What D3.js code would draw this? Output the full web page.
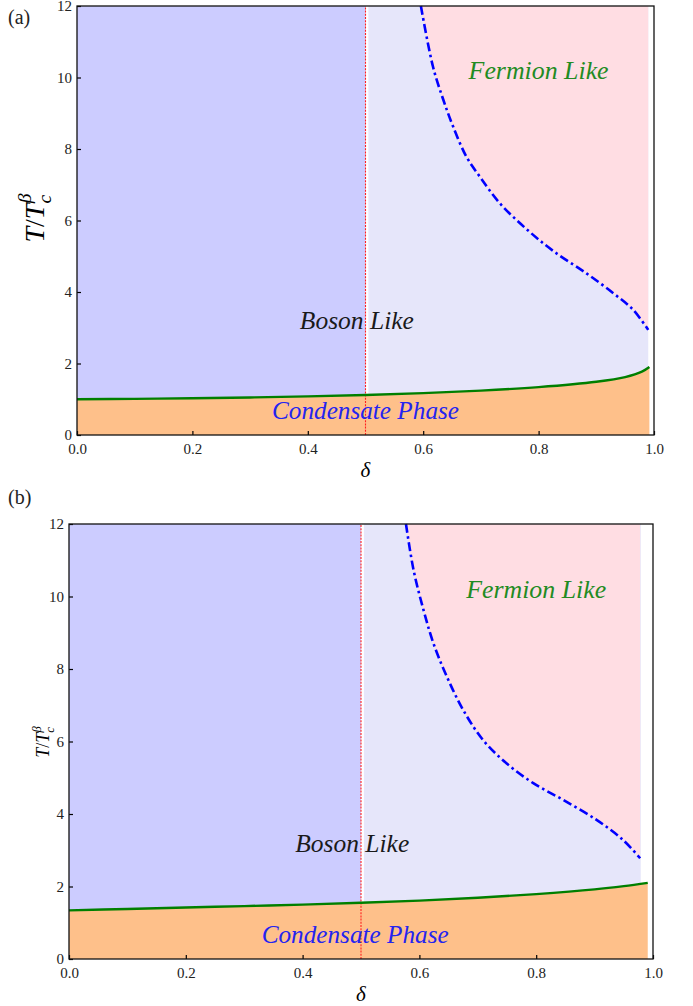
<!DOCTYPE html>
<html>
<head>
<meta charset="utf-8">
<script src="https://cdn.jsdelivr.net/npm/d3@7"></script>
<style>
  body { margin: 0; background: #fff; }
</style>
</head>
<body>
<svg width="693" height="1006"></svg>
<script>
const SERIF = "'Liberation Serif', 'Times New Roman', serif";

const deltaTicks = [0, 0.2, 0.4, 0.6, 0.8, 1.0];
const tTicks = [0, 2, 4, 6, 8, 10, 12];

// panel (a)
const condDeltaA = [0, 0.1, 0.2, 0.3, 0.4, 0.5, 0.6, 0.7, 0.8, 0.9, 0.95, 0.98, 0.992];
const condTA =     [1.0, 1.01, 1.03, 1.05, 1.08, 1.12, 1.17, 1.24, 1.34, 1.49, 1.62, 1.78, 1.90];
const crossDeltaA = [0.596, 0.617, 0.635, 0.652, 0.675, 0.698, 0.733, 0.779, 0.826, 0.883, 0.930, 0.964, 0.990];
const crossTA =     [12.0, 10.30, 9.37, 8.62, 7.78, 7.23, 6.48, 5.76, 5.14, 4.52, 3.96, 3.50, 2.94];

// panel (b)
const condDeltaB = [0, 0.1, 0.2, 0.3, 0.4, 0.5, 0.6, 0.7, 0.8, 0.9, 0.95, 0.991];
const condTB =     [1.34, 1.38, 1.42, 1.46, 1.50, 1.55, 1.61, 1.69, 1.79, 1.92, 2.01, 2.10];
const crossDeltaB = [0.577, 0.590, 0.607, 0.624, 0.647, 0.675, 0.709, 0.749, 0.795, 0.846, 0.904, 0.949, 0.978];
const crossTB =     [12.0, 10.73, 9.63, 8.71, 7.79, 6.87, 6.04, 5.40, 4.85, 4.39, 3.83, 3.28, 2.78];

const svg = d3.select("svg");

function drawPanel(o) {
  const x = d3.scaleLinear().domain([0, 1]).range([o.left, o.right]);
  const y = d3.scaleLinear().domain([0, 12]).range([o.bottom, o.top]);
  const g = svg.append("g");

  const cond = o.condD.map((d, i) => [d, o.condT[i]]);
  const cross = o.crossD.map((d, i) => [d, o.crossT[i]]);
  const curve = d3.curveCatmullRom.alpha(0.5);

  // boson region (left of delta = 0.5)
  g.append("rect")
    .attr("x", x(0)).attr("y", y(12))
    .attr("width", x(0.5) - x(0)).attr("height", y(0) - y(12))
    .attr("fill", "#ccccff");
  // boson-like region right of 0.5
  g.append("rect")
    .attr("x", x(0.505)).attr("y", y(12))
    .attr("width", x(o.lavEnd) - x(0.505)).attr("height", y(0) - y(12))
    .attr("fill", "#e6e6fa");
  // fermion-like region
  g.append("path")
    .datum(cross)
    .attr("fill", "#ffdde3")
    .attr("d", d3.area().curve(curve)
      .x(d => x(d[0])).y0(d => y(d[1])).y1(y(12)));
  // condensate region
  g.append("path")
    .datum(cond)
    .attr("fill", "#fec08a")
    .attr("d", d3.area().curve(curve)
      .x(d => x(d[0])).y0(y(0)).y1(d => y(d[1])));

  // delta = 0.5 marker
  g.append("line")
    .attr("x1", x(0.5)).attr("x2", x(0.5))
    .attr("y1", y(0)).attr("y2", y(12))
    .attr("stroke", "#ff2020").attr("stroke-width", 1.1)
    .attr("stroke-dasharray", "2,1.2");

  // lines
  g.append("path")
    .datum(cond)
    .attr("fill", "none").attr("stroke", "#007f00").attr("stroke-width", 2.4)
    .attr("d", d3.line().curve(curve).x(d => x(d[0])).y(d => y(d[1])));
  g.append("path")
    .datum(cross)
    .attr("fill", "none").attr("stroke", "#0000ff").attr("stroke-width", 2.6)
    .attr("stroke-dasharray", "9,3.5,2.5,3.5")
    .attr("d", d3.line().curve(curve).x(d => x(d[0])).y(d => y(d[1])));

  // axes
  const xAxis = g.append("g").attr("transform", `translate(0,${o.bottom})`)
    .call(d3.axisBottom(x).tickValues(deltaTicks).tickFormat(d3.format(".1f")).tickSizeInner(-4).tickSizeOuter(0).tickPadding(8));
  const yAxis = g.append("g").attr("transform", `translate(${o.left},0)`)
    .call(d3.axisLeft(y).tickValues(tTicks).tickFormat(d3.format("d")).tickSizeInner(-4).tickSizeOuter(0).tickPadding(5));
  [xAxis, yAxis].forEach(a => {
    a.select(".domain").remove();
    a.selectAll("line").attr("stroke", "#000").attr("stroke-width", 1.2);
    a.selectAll("text").attr("fill", "#222").style("font-size", "15px")
      .style("font-family", SERIF);
  });
  g.append("rect")
    .attr("x", o.left).attr("y", o.top)
    .attr("width", o.right - o.left).attr("height", o.bottom - o.top)
    .attr("fill", "none").attr("stroke", "#111").attr("stroke-width", 1.3);

  // region labels
  const lab = (txt, d, t, col, w) => g.append("text")
    .attr("x", x(d)).attr("y", y(t))
    .attr("text-anchor", "middle").attr("dominant-baseline", "central")
    .attr("textLength", w).attr("lengthAdjust", "spacingAndGlyphs")
    .attr("fill", col)
    .style("font-family", SERIF).style("font-style", "italic").style("font-size", "25px")
    .text(txt);
  lab("Fermion Like", 0.80, 10.2, "#228b22", 140);
  lab("Boson Like", 0.485, 3.2, "#1a1a1a", 114);
  lab("Condensate Phase", o.condLabD, 0.68, "#2424f0", 187);

  // axis titles
  g.append("text")
    .attr("x", (o.left + o.right) / 2).attr("y", o.bottom + 42)
    .attr("text-anchor", "middle")
    .style("font-family", SERIF).style("font-style", "italic").style("font-size", "21px")
    .text("δ");
  const yl = g.append("text")
    .attr("transform", `translate(${o.ylX},${o.ylY}) rotate(-90)`)
    .attr("text-anchor", "middle")
    .style("font-family", SERIF).style("font-size", o.ylSize + "px");
  yl.append("tspan").style("font-style", "italic").text("T");
  yl.append("tspan").text("/");
  yl.append("tspan").style("font-style", "italic").text("T");
  yl.append("tspan").style("font-style", "italic").style("font-size", (o.ylSize * 0.7) + "px")
    .attr("dy", o.ylSize * 0.25).text("c");
  yl.append("tspan").style("font-style", "italic").style("font-size", (o.ylSize * 0.7) + "px")
    .attr("dx", -o.ylSize * 0.3).attr("dy", -o.ylSize * 0.7).text("β");

  svg.append("text")
    .attr("x", 8).attr("y", o.top + o.panelDy)
    .style("font-family", SERIF).style("font-size", "20px").attr("fill", "#222").text(o.panel);
}

drawPanel({
  panel: "(a)", panelDy: 18,
  left: 77, right: 654, top: 6, bottom: 435,
  condD: condDeltaA, condT: condTA, crossD: crossDeltaA, crossT: crossTA,
  lavEnd: 0.99, condLabD: 0.50,
  ylX: 44, ylY: 218, ylSize: 28
});
drawPanel({
  panel: "(b)", panelDy: -20,
  left: 69, right: 653, top: 524, bottom: 959,
  condD: condDeltaB, condT: condTB, crossD: crossDeltaB, crossT: crossTB,
  lavEnd: 0.979, condLabD: 0.49,
  ylX: 49, ylY: 742, ylSize: 18
});
</script>
</body>
</html>
